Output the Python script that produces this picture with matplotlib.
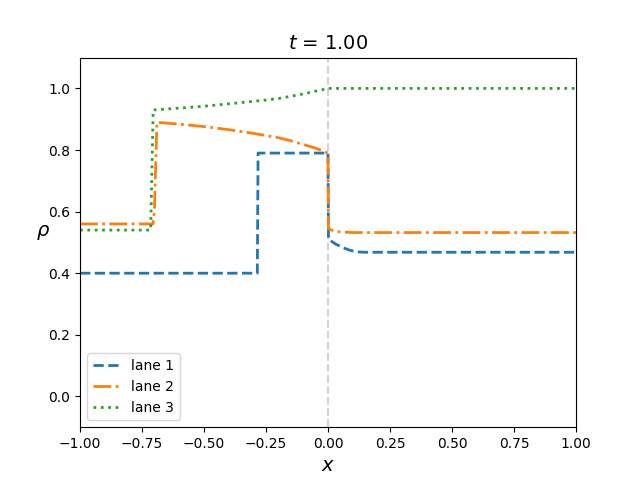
import matplotlib
matplotlib.use("Agg")
import matplotlib.pyplot as plt

# density profiles, t = 1.00
x1 = [-1.0, -0.285, -0.282, 0.0, 0.002, 0.03, 0.06, 0.09, 0.12, 0.15, 1.0]
rho1 = [0.40, 0.40, 0.79, 0.79, 0.51, 0.495, 0.483, 0.474, 0.469, 0.468, 0.468]

x2 = [-1.0, -0.706, -0.70, -0.69, -0.60, -0.50, -0.40, -0.30, -0.20, -0.15, -0.10, -0.05, 0.0,
      0.002, 0.02, 0.05, 0.10, 1.0]
rho2 = [0.56, 0.56, 0.60, 0.89, 0.884, 0.876, 0.866, 0.854, 0.840, 0.830, 0.818, 0.806, 0.79,
        0.545, 0.538, 0.534, 0.532, 0.532]

x3 = [-1.0, -0.715, -0.705, -0.60, -0.50, -0.40, -0.30, -0.20, -0.10, -0.05, 0.0, 1.0]
rho3 = [0.54, 0.54, 0.93, 0.936, 0.942, 0.950, 0.958, 0.967, 0.982, 0.991, 1.0, 1.0]

fig, ax = plt.subplots(figsize=(6.4, 4.8), dpi=100)
ax.axvline(0.0, color="lightgray", linestyle="--", lw=1.5)
ax.plot(x1, rho1, "--", lw=2, label="lane 1")
ax.plot(x2, rho2, "-.", lw=2, label="lane 2")
ax.plot(x3, rho3, ":", lw=2, label="lane 3")

ax.set_xlim(-1, 1)
ax.set_ylim(-0.1, 1.1)
ax.set_title("$t$ = 1.00", fontsize=14)
ax.set_xlabel("$x$", fontsize=14)
ax.set_ylabel(r"$\rho$", fontsize=14, rotation=0)
ax.legend(loc="lower left")

plt.savefig("out.png")
